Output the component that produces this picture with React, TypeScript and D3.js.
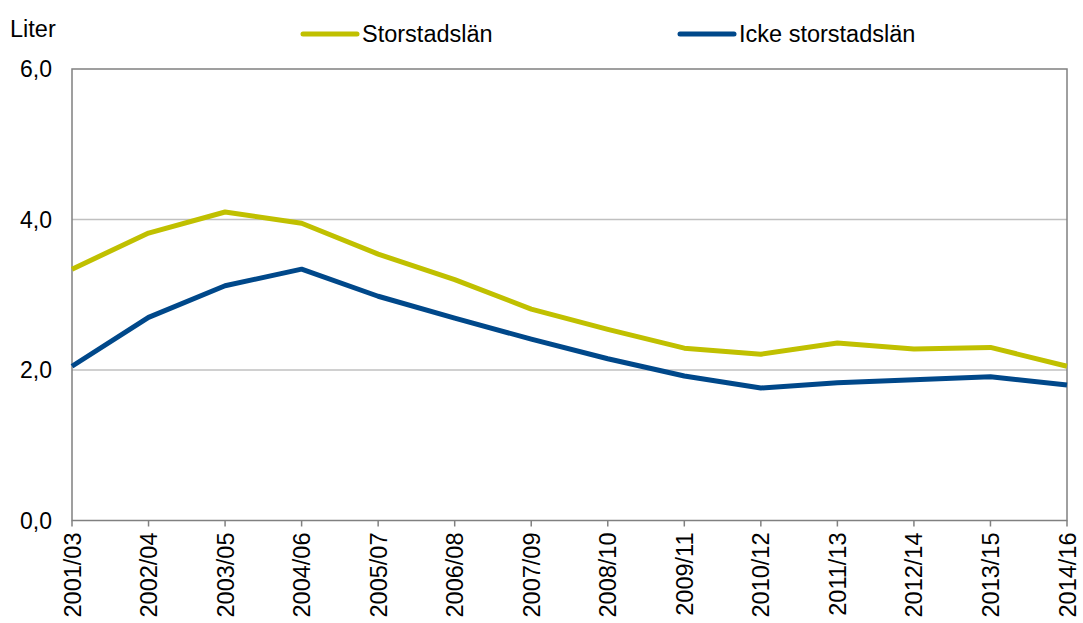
import React from "react";
import * as d3 from "d3";

const categories = ["2001/03","2002/04","2003/05","2004/06","2005/07","2006/08","2007/09","2008/10","2009/11","2010/12","2011/13","2012/14","2013/15","2014/16"];
const storstad = [3.34,3.82,4.10,3.95,3.54,3.20,2.81,2.54,2.29,2.21,2.36,2.28,2.30,2.05];
const ickeStorstad = [2.05,2.70,3.12,3.34,2.98,2.69,2.41,2.15,1.92,1.76,1.83,1.87,1.91,1.80];
const yTicks = [0, 2, 4, 6];
const seriesNames = ["Storstadslän", "Icke storstadslän"];
const seriesColors = ["#C0C000", "#00488A"];

const W = 1083, H = 623;
const left = 72, right = 1067, top = 69, bottom = 520.5;

export default function App() {
  const x = d3.scalePoint<string>().domain(categories).range([left, right]);
  const y = d3.scaleLinear().domain([0, 6]).range([bottom, top]);
  const line = d3.line<number>().x((_, i) => x(categories[i])!).y(d => y(d));
  const fmt = (v: number) => v.toFixed(1).replace(".", ",");
  const font = "Liberation Sans, Arial, sans-serif";
  const series = [storstad, ickeStorstad];
  const legendX = [303, 680];

  return (
    <svg width={W} height={H} style={{ position: "absolute", left: 0, top: 0, background: "#fff" }} fontFamily={font}>
      <rect x={0} y={0} width={W} height={H} fill="#fff" />
      {yTicks.filter(t => t > 0 && t < 6).map(t => (
        <line key={t} x1={left} x2={right} y1={y(t)} y2={y(t)} stroke="#C0C0C0" strokeWidth={1.5} />
      ))}
      <rect x={left} y={top} width={right - left} height={bottom - top} fill="none" stroke="#808080" strokeWidth={1.5} />
      {categories.map(c => (
        <line key={c} x1={x(c)} x2={x(c)} y1={bottom} y2={bottom + 6} stroke="#808080" strokeWidth={1.5} />
      ))}
      {yTicks.map(t => (
        <text key={t} x={52} y={y(t)} dy="0.35em" textAnchor="end" fontSize={23} fill="#000">{fmt(t)}</text>
      ))}
      {categories.map(c => (
        <text key={c} transform={`translate(${x(c)! + 8.5},${bottom + 12}) rotate(-90)`} textAnchor="end" fontSize={23.5} fill="#000">{c}</text>
      ))}
      <text x={10} y={37} fontSize={23.5} fill="#000">Liter</text>
      {series.map((s, i) => (
        <path key={i} d={line(s)!} fill="none" stroke={seriesColors[i]} strokeWidth={5} strokeLinejoin="round" />
      ))}
      {seriesNames.map((n, i) => (
        <g key={n}>
          <line x1={legendX[i]} x2={legendX[i] + 54} y1={34} y2={34} stroke={seriesColors[i]} strokeWidth={5} strokeLinecap="round" />
          <text x={legendX[i] + 59} y={34} dy="0.35em" fontSize={23.5} fill="#000">{n}</text>
        </g>
      ))}
    </svg>
  );
}
